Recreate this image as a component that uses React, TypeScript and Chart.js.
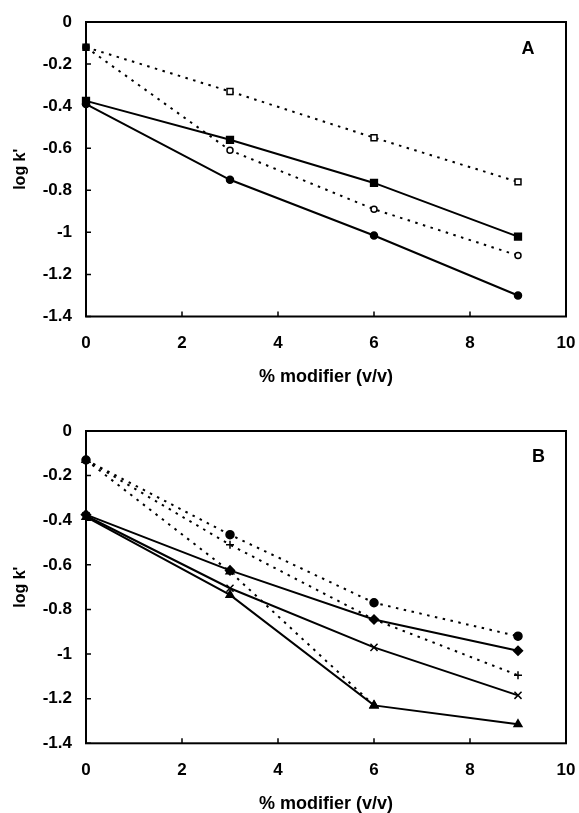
import React, { useEffect, useRef } from "react";
import { Chart, registerables } from "chart.js";

Chart.register(...registerables);

// ---- data ----
const modifierPct = [0, 3, 6, 9];
const xTickValues = [0, 2, 4, 6, 8, 10];
const yTickValues = [0, -0.2, -0.4, -0.6, -0.8, -1, -1.2, -1.4];
const xTitle = "% modifier (v/v)";
const yTitle = "log k'";

// Panel A
const aOpenSquare = [-0.12, -0.33, -0.55, -0.76];
const aOpenCircle = [-0.12, -0.61, -0.89, -1.11];
const aFilledSquare = [-0.375, -0.56, -0.765, -1.02];
const aFilledCircle = [-0.39, -0.75, -1.015, -1.3];

// Panel B
const bDotCircle = [-0.13, -0.465, -0.77, -0.92];
const bDotPlus = [-0.13, -0.51, -0.845, -1.095];
const bDotTriangle: (number | null)[] = [-0.13, -0.63, -1.23, null];
const bDiamond = [-0.375, -0.625, -0.845, -0.985];
const bCross = [-0.38, -0.705, -0.97, -1.185];
const bTriangle = [-0.385, -0.735, -1.23, -1.315];

const FONT = '"Liberation Sans", Arial, Helvetica, sans-serif';

type Series = {
  values: (number | null)[];
  dotted: boolean;
  style: string;
  filled: boolean;
  radius: number;
  firstFilled?: boolean;
};

const panelA: Series[] = [
  { values: aOpenSquare, dotted: true, style: "rect", filled: false, radius: 4.2, firstFilled: true },
  { values: aOpenCircle, dotted: true, style: "circle", filled: false, radius: 3, firstFilled: true },
  { values: aFilledSquare, dotted: false, style: "rect", filled: true, radius: 4.8 },
  { values: aFilledCircle, dotted: false, style: "circle", filled: true, radius: 3.5 },
];

const panelB: Series[] = [
  { values: bDotCircle, dotted: true, style: "circle", filled: true, radius: 4 },
  { values: bDotPlus, dotted: true, style: "cross", filled: false, radius: 4 },
  { values: bDotTriangle, dotted: true, style: "triangle", filled: true, radius: 4.5 },
  { values: bDiamond, dotted: false, style: "rectRot", filled: true, radius: 4.5 },
  { values: bCross, dotted: false, style: "crossRot", filled: false, radius: 5 },
  { values: bTriangle, dotted: false, style: "triangle", filled: true, radius: 4.5 },
];

type PanelProps = {
  letter: string;
  series: Series[];
  top: number;
  height: number;
  padTop: number;
  xAxisHeight: number;
  xTitlePadBottom: number;
  xTickPad: number;
  letterDx: number;
  letterDy: number;
};

function Panel(p: PanelProps) {
  const ref = useRef<HTMLCanvasElement | null>(null);

  useEffect(() => {
    if (!ref.current) return;
    const framePlugin = {
      id: "frame" + p.letter,
      beforeDatasetsDraw(chart: any) {
        const { ctx, chartArea, scales } = chart;
        const { left, right, top, bottom } = chartArea;
        ctx.save();
        ctx.strokeStyle = "#000";
        ctx.lineWidth = 2;
        ctx.strokeRect(left, top, right - left, bottom - top);
        ctx.lineWidth = 1.5;
        ctx.beginPath();
        scales.x.ticks.forEach((t: any) => {
          const px = scales.x.getPixelForValue(t.value);
          ctx.moveTo(px, bottom);
          ctx.lineTo(px, bottom - 5);
        });
        scales.y.ticks.forEach((t: any) => {
          const py = scales.y.getPixelForValue(t.value);
          ctx.moveTo(left, py);
          ctx.lineTo(left + 5, py);
        });
        ctx.stroke();
        ctx.fillStyle = "#000";
        ctx.font = `bold 18px ${FONT}`;
        ctx.textAlign = "center";
        ctx.textBaseline = "middle";
        ctx.fillText(p.letter, right - p.letterDx, top + p.letterDy);
        ctx.restore();
      },
    };

    const datasets = p.series.map((s) => {
      const pts = modifierPct
        .map((x, i) => ({ x, y: s.values[i] }))
        .filter((d) => d.y !== null);
      return {
        data: pts,
        showLine: true,
        borderColor: "#000",
        borderWidth: 2,
        borderDash: s.dotted ? [2.5, 5.5] : [],
        pointStyle: s.style,
        pointRadius: s.radius,
        pointBackgroundColor: pts.map((_, i) =>
          s.filled || (s.firstFilled && i === 0) ? "#000" : "#fff"
        ),
        pointBorderColor: "#000",
        pointBorderWidth: 1.5,
        clip: false,
      };
    });

    const chart = new Chart(ref.current, {
      type: "scatter",
      data: { datasets: datasets as any },
      options: {
        animation: false,
        responsive: false,
        devicePixelRatio: 1,
        layout: { padding: { left: 0, right: 13, top: p.padTop, bottom: 0 } },
        plugins: { legend: { display: false }, tooltip: { enabled: false } },
        scales: {
          x: {
            type: "linear",
            min: 0,
            max: 10,
            afterBuildTicks: (axis: any) => {
              axis.ticks = xTickValues.map((v) => ({ value: v }));
            },
            afterFit: (axis: any) => {
              axis.height = p.xAxisHeight;
              axis.paddingLeft = 0;
              axis.paddingRight = 0;
            },
            grid: { display: false, drawTicks: false },
            border: { display: false },
            ticks: {
              padding: p.xTickPad,
              color: "#000",
              font: { family: FONT, size: 17, weight: "bold" },
              callback: (v: any) => String(Math.round(Number(v) * 10) / 10),
              maxRotation: 0,
            },
            title: {
              display: true,
              text: xTitle,
              color: "#000",
              font: { family: FONT, size: 18, weight: "bold" },
              padding: { top: 0, bottom: p.xTitlePadBottom },
            },
          },
          y: {
            type: "linear",
            min: -1.4,
            max: 0,
            afterBuildTicks: (axis: any) => {
              axis.ticks = yTickValues.map((v) => ({ value: v }));
            },
            afterFit: (axis: any) => {
              axis.width = 86;
              axis.paddingTop = 0;
              axis.paddingBottom = 0;
            },
            grid: { display: false, drawTicks: false },
            border: { display: false },
            ticks: {
              padding: 14,
              color: "#000",
              font: { family: FONT, size: 17, weight: "bold" },
              callback: (v: any) => String(Math.round(Number(v) * 10) / 10),
            },
            title: {
              display: true,
              text: yTitle,
              color: "#000",
              font: { family: FONT, size: 16, weight: "bold" },
              padding: { top: 10.5, bottom: 0 },
            },
          },
        },
      },
      plugins: [framePlugin],
    } as any);

    return () => chart.destroy();
  }, []);

  return (
    <div style={{ position: "absolute", left: 0, top: p.top, width: 579, height: p.height }}>
      <canvas ref={ref} width={579} height={p.height} style={{ display: "block" }} />
    </div>
  );
}

export default function App() {
  return (
    <div
      style={{
        position: "absolute",
        left: 0,
        top: 0,
        width: 579,
        height: 813,
        overflow: "hidden",
        background: "#fff",
      }}
    >
      <Panel
        letter="A"
        series={panelA}
        top={0}
        height={400}
        padTop={22}
        xAxisHeight={83.5}
        xTitlePadBottom={12.5}
        xTickPad={16.6}
        letterDx={38}
        letterDy={27}
      />
      <Panel
        letter="B"
        series={panelB}
        top={400}
        height={420}
        padTop={31}
        xAxisHeight={76.7}
        xTitlePadBottom={5.3}
        xTickPad={17.2}
        letterDx={27.5}
        letterDy={26}
      />
    </div>
  );
}
